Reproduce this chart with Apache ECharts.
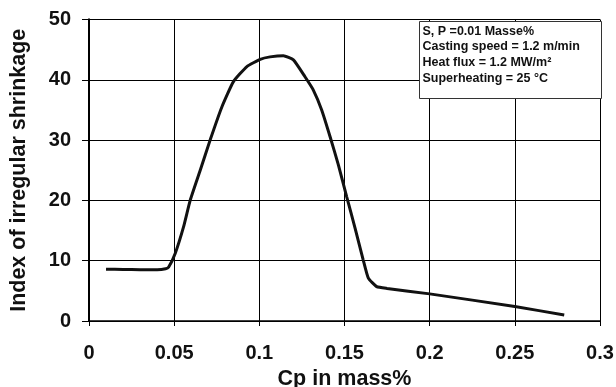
<!DOCTYPE html>
<html>
<head>
<meta charset="utf-8">
<script src="https://cdn.jsdelivr.net/npm/echarts@6/dist/echarts.min.js"></script>
<style>
  html, body { margin: 0; padding: 0; background: #fff; }
  #chart { width: 616px; height: 387px; }
</style>
</head>
<body>
<div id="chart"></div>
<script>
// Cp content (mass%) vs index of irregular shrinkage
var cpValues = [0.01, 0.02, 0.03, 0.04, 0.045, 0.0467, 0.0506, 0.0555, 0.0594, 0.0653, 0.0711, 0.078, 0.0848, 0.0927, 0.1005, 0.1063, 0.1141, 0.12, 0.1268, 0.1317, 0.1366, 0.1415, 0.1464, 0.1513, 0.1562, 0.161, 0.164, 0.1689, 0.175, 0.2, 0.25, 0.279];
var shrinkValues = [8.6, 8.55, 8.5, 8.5, 8.65, 8.9, 11.2, 15.6, 20, 25, 30, 35.5, 39.7, 42.2, 43.4, 43.8, 44, 43.3, 40.5, 38.3, 35, 30.6, 25.9, 20.6, 15.4, 10.1, 7.1, 5.7, 5.4, 4.5, 2.4, 1.0];
var xTicks = [0, 0.05, 0.1, 0.15, 0.2, 0.25, 0.3];
var yTicks = [0, 10, 20, 30, 40, 50];
var noteLines = ["S, P =0.01 Masse%", "Casting speed = 1.2 m/min", "Heat flux = 1.2 MW/m\u00b2", "Superheating = 25 \u00b0C"];

var seriesData = cpValues.map(function (x, i) { return [x, shrinkValues[i]]; });

var chart = echarts.init(document.getElementById("chart"));
var labelFont = { color: "#111", fontSize: 20, fontWeight: "bold", fontFamily: "Liberation Sans, Arial, sans-serif" };
var nameFont = { color: "#111", fontSize: 21.5, fontWeight: "bold", fontFamily: "Liberation Sans, Arial, sans-serif" };

chart.setOption({
  animation: false,
  backgroundColor: "#fff",
  grid: { left: 89, right: 16, top: 19.5, bottom: 66, outerBoundsMode: "none", containLabel: false },
  xAxis: {
    type: "value",
    min: 0, max: 0.3, interval: 0.05,
    name: "Cp in mass%",
    nameLocation: "middle",
    nameGap: 43,
    nameTextStyle: nameFont,
    axisLine: { show: true, onZero: false, lineStyle: { color: "#000", width: 1.5 } },
    axisTick: { show: true, length: 5, lineStyle: { color: "#000" } },
    axisLabel: Object.assign({ margin: 22, formatter: function (v) { return xTicks.indexOf(+v.toFixed(2)) >= 0 ? String(+v.toFixed(2)) : ""; } }, labelFont),
    splitLine: { show: true, lineStyle: { color: "#000", width: 1 } }
  },
  yAxis: [{
    type: "value",
    min: 0, max: 50, interval: 10,
    name: "Index of irregular shrinkage",
    nameLocation: "middle",
    nameGap: 59,
    nameTextStyle: nameFont,
    axisLine: { show: true, onZero: false, lineStyle: { color: "#000", width: 2 } },
    axisTick: { show: true, length: 7, lineStyle: { color: "#000" } },
    axisLabel: Object.assign({ margin: 18 }, labelFont),
    splitLine: { show: true, lineStyle: { color: "#000", width: 1 } }
  }, {
    type: "value",
    position: "right",
    min: 0, max: 50, interval: 10,
    axisLine: { show: true, lineStyle: { color: "#000", width: 2 } },
    axisTick: { show: false },
    axisLabel: { show: false },
    splitLine: { show: false }
  }],
  series: [{
    type: "line",
    data: seriesData,
    smooth: 0.15,
    showSymbol: false,
    lineStyle: { color: "#111", width: 3 }
  }],
  graphic: [{
    type: "group",
    left: 419, top: 21,
    z: 100,
    children: [{
      type: "rect",
      z: 100,
      shape: { x: 0, y: 0, width: 182, height: 77 },
      style: { fill: "#fff", stroke: "#333", lineWidth: 1 }
    }, {
      type: "text",
      z: 101,
      left: 3, top: 2,
      style: {
        text: noteLines.join("\n"),
        fill: "#111",
        font: "bold 12.5px 'Liberation Sans', Arial, sans-serif",
        lineHeight: 15.6
      }
    }]
  }]
});
</script>
</body>
</html>
